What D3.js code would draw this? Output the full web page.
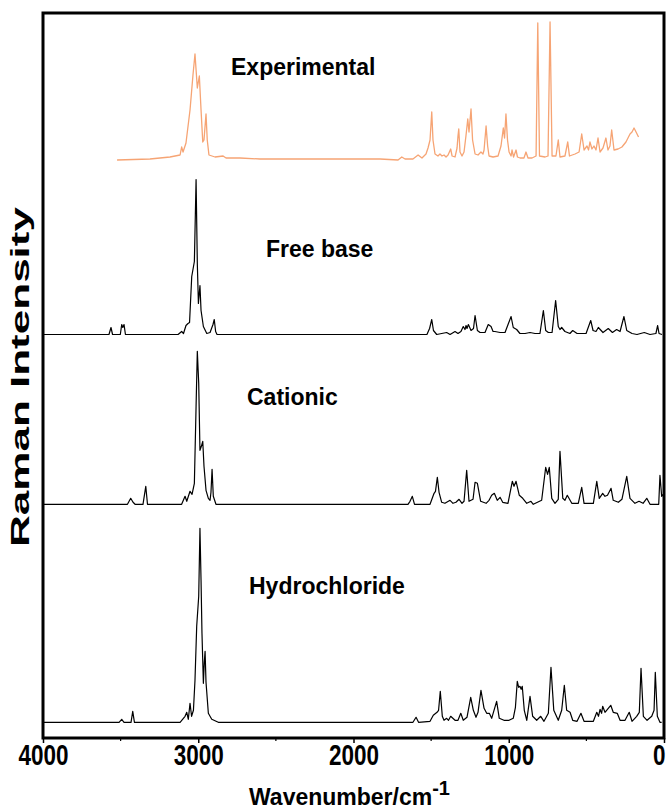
<!DOCTYPE html>
<html>
<head>
<meta charset="utf-8">
<script src="https://cdn.jsdelivr.net/npm/d3@7"></script>
<style>
  body { margin: 0; background: #fff; }
  text { font-family: "Liberation Sans", Arial, sans-serif; font-weight: bold; }
</style>
</head>
<body>
<div id="chart"></div>
<script>
// spectra as [wavenumber (cm-1), intensity above own baseline (a.u.)]
const experimental = [[3523,0],[3311,1],[3182,3],[3117,5],[3107,13],[3098,8],[3079,17],[3053,50],[3034,85],[3021,106],[3006,72],[2993,84],[2982,50],[2971,18],[2963,20],[2950,46],[2942,20],[2931,5],[2892,3],[2840,4],[2821,2],[2731,2],[2602,1],[2345,1],[2087,1],[1829,1],[1713,0],[1689,3],[1668,1],[1617,1],[1584,5],[1559,2],[1533,6],[1520,12],[1507,20],[1496,48],[1488,20],[1475,6],[1456,4],[1443,6],[1430,4],[1417,5],[1404,3],[1391,5],[1374,11],[1365,4],[1346,3],[1333,12],[1327,24],[1322,31],[1314,8],[1301,4],[1288,8],[1275,25],[1264,41],[1256,28],[1243,51],[1233,20],[1217,6],[1198,5],[1179,8],[1166,6],[1159,10],[1146,34],[1136,14],[1127,4],[1101,3],[1069,4],[1050,14],[1035,32],[1027,22],[1018,46],[1008,20],[998,8],[985,4],[979,10],[969,3],[953,10],[944,3],[927,2],[902,2],[889,8],[876,2],[850,2],[824,4],[813,137],[802,4],[766,3],[747,4],[734,138],[721,4],[696,4],[681,20],[670,3],[638,4],[620,18],[609,4],[573,6],[547,8],[530,26],[515,10],[496,14],[486,10],[477,18],[464,11],[451,14],[438,10],[425,22],[412,8],[393,12],[374,22],[361,10],[348,14],[337,30],[322,10],[296,11],[271,13],[245,18],[219,26],[206,28],[193,32],[180,28],[164,23]];

const freeBase = [[4000,0],[3575,0],[3562,7],[3552,0],[3502,0],[3493,10],[3486,7],[3478,10],[3469,0],[3130,0],[3107,3],[3095,1],[3079,9],[3066,11],[3056,12],[3042,58],[3025,73],[3014,155],[3006,71],[2999,31],[2989,49],[2982,24],[2967,8],[2945,1],[2924,2],[2905,10],[2897,15],[2888,3],[2879,0],[1668,0],[1527,0],[1510,6],[1496,15],[1485,4],[1464,0],[1400,2],[1378,0],[1346,3],[1327,1],[1308,3],[1293,8],[1282,5],[1275,9],[1269,6],[1260,10],[1243,4],[1227,6],[1217,19],[1202,4],[1185,2],[1153,2],[1132,10],[1114,8],[1101,3],[1089,3],[1056,2],[1024,2],[1007,9],[985,18],[971,7],[960,6],[949,5],[928,1],[895,1],[863,2],[831,1],[799,1],[777,24],[762,4],[745,2],[721,2],[698,34],[681,8],[670,5],[659,7],[638,3],[606,1],[588,4],[560,1],[502,1],[472,14],[457,4],[438,3],[423,7],[393,2],[359,6],[332,2],[305,5],[283,3],[258,18],[240,4],[206,1],[174,0],[127,2],[90,0],[52,1],[41,9],[32,1],[13,0]];

const cationic = [[4000,0],[3456,0],[3435,6],[3420,2],[3407,0],[3356,0],[3338,18],[3327,0],[3107,0],[3085,8],[3074,3],[3053,13],[3040,10],[3025,21],[3014,98],[3006,153],[2997,121],[2989,54],[2980,58],[2971,63],[2963,38],[2950,14],[2935,6],[2924,4],[2918,12],[2911,35],[2903,8],[2886,0],[1649,0],[1636,3],[1621,8],[1607,0],[1507,0],[1481,11],[1472,13],[1460,27],[1449,12],[1432,2],[1411,1],[1378,4],[1359,1],[1340,2],[1320,5],[1301,1],[1288,3],[1271,34],[1256,3],[1230,5],[1217,22],[1202,21],[1181,3],[1146,1],[1127,4],[1110,9],[1093,11],[1074,4],[1056,7],[1039,2],[1005,1],[977,23],[966,18],[953,23],[932,9],[910,6],[884,1],[857,3],[842,0],[788,4],[762,37],[750,30],[739,37],[723,6],[702,1],[681,5],[670,53],[652,6],[638,4],[623,9],[594,1],[552,1],[530,17],[515,1],[455,1],[433,23],[417,6],[395,11],[380,8],[364,9],[354,12],[341,16],[327,4],[294,2],[271,5],[240,28],[219,6],[187,1],[161,3],[135,1],[111,6],[90,0],[34,0],[26,29],[15,8],[6,10]];

const hydrochloride = [[4000,0],[3510,0],[3493,3],[3478,0],[3433,0],[3422,11],[3411,0],[3117,0],[3085,6],[3074,10],[3064,3],[3053,19],[3043,6],[3031,12],[3021,42],[3010,96],[2997,126],[2989,194],[2982,142],[2976,89],[2967,39],[2961,60],[2956,71],[2950,40],[2935,9],[2913,3],[2871,0],[1617,0],[1597,5],[1581,0],[1507,1],[1486,7],[1462,10],[1452,12],[1441,31],[1428,6],[1417,2],[1400,4],[1388,2],[1374,6],[1346,2],[1327,2],[1309,9],[1293,2],[1269,5],[1245,25],[1228,12],[1211,5],[1198,10],[1179,32],[1159,14],[1142,9],[1125,9],[1110,4],[1078,21],[1061,4],[1031,2],[998,2],[971,4],[957,15],[945,41],[936,35],[928,36],[920,33],[913,36],[900,12],[884,2],[863,26],[846,6],[820,2],[794,6],[773,1],[745,9],[728,55],[710,12],[681,2],[659,12],[642,37],[627,12],[605,10],[588,2],[560,1],[535,9],[515,1],[455,1],[433,10],[422,6],[412,13],[402,9],[395,16],[380,10],[359,14],[343,17],[327,10],[301,9],[283,2],[251,2],[224,10],[206,1],[176,6],[159,10],[148,54],[133,6],[109,2],[79,6],[64,12],[56,50],[43,6],[26,0],[15,0]];

const seriesNames = ["Experimental", "Free base", "Cationic", "Hydrochloride"];
const seriesData = [experimental, freeBase, cationic, hydrochloride];
const seriesOffset = [578, 403.5, 233.7, 15.7];
const seriesColor = ["#f6a474", "#000", "#000", "#000"];

const xTicks = [4000, 3000, 2000, 1000, 0];
const xMinorTicks = [3500, 2500, 1500, 500];

const width = 670, height = 810;
const margin = {top: 13, right: 6, bottom: 72, left: 43};
const innerW = width - margin.left - margin.right;
const innerH = height - margin.top - margin.bottom;

const svg = d3.select("#chart")
  .append("svg")
    .attr("width", width)
    .attr("height", height);

const x = d3.scaleLinear()
  .domain([4000, 0])
  .range([margin.left, margin.left + innerW]);

const y = d3.scaleLinear()
  .domain([0, 725])
  .range([margin.top + innerH, margin.top]);

svg.append("defs").append("clipPath")
    .attr("id", "plot-clip")
  .append("rect")
    .attr("x", margin.left)
    .attr("y", margin.top)
    .attr("width", innerW)
    .attr("height", innerH);

const plot = svg.append("g").attr("clip-path", "url(#plot-clip)");

seriesData.forEach((data, i) => {
  const line = d3.line()
    .x(d => x(d[0]))
    .y(d => y(d[1] + seriesOffset[i]));

  plot.append("path")
    .datum(data)
      .attr("fill", "none")
      .attr("stroke", seriesColor[i])
      .attr("stroke-width", i === 0 ? 1.3 : 1.2)
      .attr("stroke-linejoin", "round")
      .attr("d", line);
});

// spectrum names
const labelPos = [[231, 75], [266, 257], [247, 405], [249, 594]];
svg.selectAll(".series-label")
  .data(seriesNames)
  .join("text")
    .attr("class", "series-label")
    .attr("x", (d, i) => labelPos[i][0])
    .attr("y", (d, i) => labelPos[i][1])
    .attr("font-size", 23)
    .text(d => d);

// x axis
const xAxis = svg.append("g")
    .attr("transform", `translate(0,${margin.top + innerH})`)
  .call(d3.axisBottom(x)
    .tickValues(xTicks)
    .tickSize(5)
    .tickPadding(4)
    .tickFormat(d3.format("d")));

xAxis.select(".domain").remove();
xAxis.selectAll(".tick line").attr("stroke-width", 1.5);
xAxis.selectAll(".tick text")
    .attr("font-size", 29)
    .attr("fill", "#000")
    .attr("y", 27)
    .attr("dy", 0)
    .attr("textLength", d => String(d).length * 12.5)
    .attr("lengthAdjust", "spacingAndGlyphs");
// keep the last label inside the page
xAxis.selectAll(".tick text")
  .filter(d => d === 0)
    .attr("text-anchor", "end")
    .attr("x", 1);

svg.append("g")
  .selectAll("line")
  .data(xMinorTicks)
  .join("line")
    .attr("x1", d => x(d))
    .attr("x2", d => x(d))
    .attr("y1", margin.top + innerH)
    .attr("y2", margin.top + innerH + 3)
    .attr("stroke", "#000")
    .attr("stroke-width", 1.2);

// frame
svg.append("rect")
    .attr("x", margin.left)
    .attr("y", margin.top)
    .attr("width", innerW)
    .attr("height", innerH)
    .attr("fill", "none")
    .attr("stroke", "#000")
    .attr("stroke-width", 3);

// axis titles
const xTitle = svg.append("text")
    .attr("x", 249)
    .attr("y", 805)
    .attr("font-size", 23);
xTitle.append("tspan").text("Wavenumber/cm");
xTitle.append("tspan")
    .attr("font-size", 20)
    .attr("dy", -10)
    .text("-1");

svg.append("text")
    .attr("transform", "translate(29,377) rotate(-90)")
    .attr("text-anchor", "middle")
    .attr("font-size", 25)
    .attr("textLength", 340)
    .attr("lengthAdjust", "spacingAndGlyphs")
    .text("Raman Intensity");
</script>
</body>
</html>
